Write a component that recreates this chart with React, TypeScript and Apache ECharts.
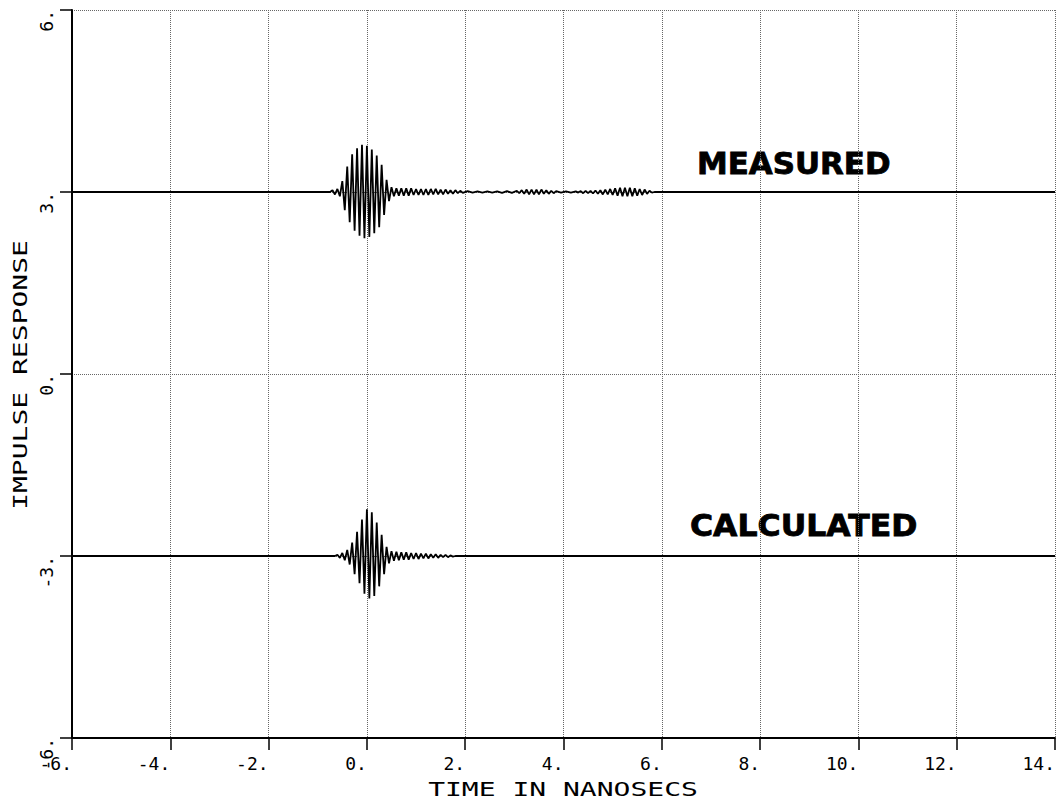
import { useEffect, useRef } from "react";
import * as echarts from "echarts";

// Axis ranges / ticks (value units)
const xRange = [-6, 14];
const xStep = 2;
const yRange = [-6, 6];
const yStep = 3;

const measured: [number, number][] = [
  [-6, 3], [-0.75, 3],
  [-0.7, 3.03], [-0.65, 2.96], [-0.6, 3.05], [-0.55, 2.93], [-0.5, 3.18], [-0.45, 2.7],
  [-0.4, 3.42], [-0.35, 2.5], [-0.3, 3.62], [-0.25, 2.36], [-0.2, 3.72], [-0.15, 2.28],
  [-0.1, 3.78], [-0.05, 2.24], [0.0, 3.76], [0.05, 2.26], [0.1, 3.7], [0.15, 2.32],
  [0.2, 3.6], [0.25, 2.42], [0.3, 3.45], [0.35, 2.62], [0.4, 3.2], [0.45, 2.85],
  [0.5, 3.08], [0.55, 2.93], [0.6, 3.06], [0.65, 2.94], [0.7, 3.06],
  [0.75, 2.94], [0.8, 3.06], [0.85, 2.94], [0.9, 3.06], [0.95, 2.95], [1.0, 3.05],
  [1.05, 2.95], [1.1, 3.05], [1.15, 2.95], [1.2, 3.05], [1.25, 2.95], [1.3, 3.05],
  [1.35, 2.96], [1.4, 3.05], [1.45, 2.96], [1.5, 3.04], [1.55, 2.96], [1.6, 3.04],
  [1.65, 2.97], [1.7, 3.03], [1.75, 2.97], [1.8, 3.03], [1.85, 2.98], [1.9, 3.02],
  [1.95, 2.985], [2.05, 3.015], [2.15, 2.99], [2.25, 3.01], [2.35, 2.99], [2.45, 3.01],
  [2.55, 2.99], [2.65, 3.01], [2.75, 2.985], [2.85, 3.015], [2.95, 2.985],
  [3.05, 3.02], [3.1, 2.98], [3.15, 3.03], [3.2, 2.97], [3.25, 3.04], [3.3, 2.96],
  [3.35, 3.04], [3.4, 2.96], [3.45, 3.04], [3.5, 2.96], [3.55, 3.04], [3.6, 2.97],
  [3.65, 3.03], [3.7, 2.97], [3.75, 3.02], [3.8, 2.98], [3.85, 3.015],
  [3.95, 2.99], [4.05, 3.01], [4.15, 2.99], [4.25, 3.01],
  [4.3, 2.99], [4.35, 3.015], [4.4, 2.98], [4.45, 3.02], [4.5, 2.98], [4.55, 3.02],
  [4.6, 2.975], [4.65, 3.025], [4.7, 2.97], [4.75, 3.03], [4.8, 2.96], [4.85, 3.04],
  [4.9, 2.96], [4.95, 3.05], [5.0, 2.95], [5.05, 3.06], [5.1, 2.94], [5.15, 3.07],
  [5.2, 2.93], [5.25, 3.07], [5.3, 2.93], [5.35, 3.07], [5.4, 2.93], [5.45, 3.06],
  [5.5, 2.94], [5.55, 3.05], [5.6, 2.95], [5.65, 3.04], [5.7, 2.97], [5.75, 3.02],
  [5.8, 2.99], [5.85, 3.0], [14, 3],
];

// Calculated impulse response (offset trace around -3)
const calculated: [number, number][] = [
  [-6, -3], [-0.65, -3],
  [-0.6, -2.98], [-0.55, -3.03], [-0.5, -2.95], [-0.45, -3.07], [-0.4, -2.9], [-0.35, -3.14],
  [-0.3, -2.78], [-0.25, -3.3], [-0.2, -2.6], [-0.15, -3.45], [-0.1, -2.4], [-0.05, -3.62],
  [0.0, -2.23], [0.05, -3.7], [0.1, -2.28], [0.15, -3.66], [0.2, -2.45], [0.25, -3.5],
  [0.3, -2.65], [0.35, -3.3], [0.4, -2.85], [0.45, -3.12], [0.5, -2.92], [0.55, -3.08],
  [0.6, -2.93], [0.65, -3.07], [0.7, -2.94], [0.75, -3.06], [0.8, -2.94], [0.85, -3.06],
  [0.9, -2.95], [0.95, -3.05], [1.0, -2.95], [1.05, -3.05], [1.1, -2.96], [1.15, -3.04],
  [1.2, -2.96], [1.25, -3.04], [1.3, -2.97], [1.35, -3.03], [1.4, -2.97], [1.45, -3.03],
  [1.5, -2.98], [1.55, -3.02], [1.6, -2.98], [1.65, -3.02], [1.7, -2.99], [1.75, -3.01],
  [1.8, -3], [14, -3],
];

const xAxisTitle = "TIME IN NANOSECS";
const yAxisTitle = "IMPULSE RESPONSE";
const labelMeasured = "MEASURED";
const labelCalculated = "CALCULATED";

const tickFont = "DejaVu Sans Mono";

export default function App() {
  const ref = useRef<HTMLDivElement>(null);
  useEffect(() => {
    if (!ref.current) return;
    const chart = echarts.init(ref.current, null, { renderer: "svg" });
    const splitLine = {
      show: true,
      lineStyle: { color: "#666", type: "dotted", width: 1 },
    };
    chart.setOption({
      animation: false,
      backgroundColor: "#fff",
      grid: { left: 72, right: 5, top: 10, bottom: 68, containLabel: false },
      xAxis: {
        type: "value",
        min: xRange[0],
        max: xRange[1],
        interval: xStep,
        axisLine: { show: true, onZero: false, lineStyle: { color: "#000", width: 1.8 } },
        axisTick: { show: true, length: 12, lineStyle: { color: "#000", width: 1.5 } },
        axisLabel: {
          formatter: (v: number) => `${v}.`,
          align: "right",
          margin: 16,
          color: "#000",
          fontFamily: tickFont,
          fontSize: 18,
          showMinLabel: true,
          showMaxLabel: true,
        },
        splitLine,
      },
      yAxis: {
        type: "value",
        min: yRange[0],
        max: yRange[1],
        interval: yStep,
        axisLine: { show: true, onZero: false, lineStyle: { color: "#000", width: 2 } },
        axisTick: { show: true, length: 12, lineStyle: { color: "#000", width: 1.5 } },
        axisLabel: {
          formatter: (v: number) => `${v}.`,
          rotate: 90,
          align: "right",
          verticalAlign: "bottom",
          margin: 17,
          color: "#000",
          fontFamily: tickFont,
          fontSize: 18,
          showMinLabel: true,
          showMaxLabel: true,
        },
        splitLine,
      },
      series: [
        {
          type: "line",
          data: measured,
          showSymbol: false,
          silent: true,
          lineStyle: { color: "#000", width: 1.8 },
        },
        {
          type: "line",
          data: calculated,
          showSymbol: false,
          silent: true,
          lineStyle: { color: "#000", width: 1.8 },
        },
      ],
      graphic: [
        {
          type: "text",
          x: 563,
          y: 789,
          scaleX: 1.4,
          style: {
            text: xAxisTitle,
            fill: "#000",
            font: `20px "${tickFont}"`,
            align: "center",
            verticalAlign: "middle",
          },
        },
        {
          type: "text",
          x: 20,
          y: 375,
          rotation: Math.PI / 2,
          scaleX: 1.4,
          style: {
            text: yAxisTitle,
            fill: "#000",
            font: `20px "${tickFont}"`,
            align: "center",
            verticalAlign: "middle",
          },
        },
        {
          type: "text",
          x: 697,
          y: 164,
          scaleX: 1.03,
          style: {
            text: labelMeasured,
            fill: "#000",
            stroke: "#000",
            lineWidth: 0.8,
            font: `bold 30px "DejaVu Sans"`,
            align: "left",
            verticalAlign: "middle",
          },
        },
        {
          type: "text",
          x: 690,
          y: 525,
          scaleX: 1.05,
          style: {
            text: labelCalculated,
            fill: "#000",
            stroke: "#000",
            lineWidth: 0.8,
            font: `bold 30px "DejaVu Sans"`,
            align: "left",
            verticalAlign: "middle",
          },
        },
      ],
    });
    return () => chart.dispose();
  }, []);
  return (
    <div
      ref={ref}
      style={{ position: "absolute", left: 0, top: 0, width: 1060, height: 806, background: "#fff" }}
    />
  );
}
